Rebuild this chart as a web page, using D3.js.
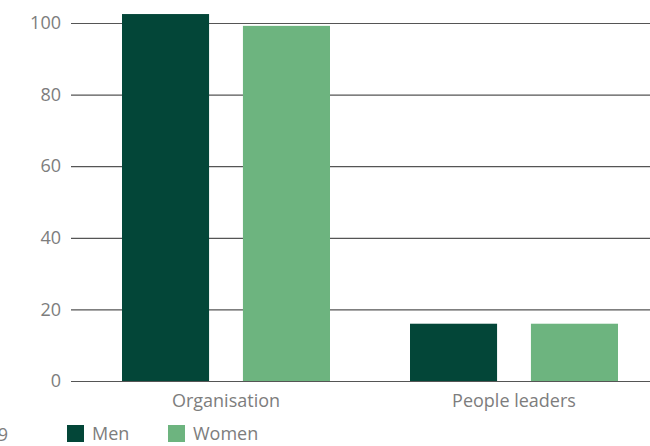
<!DOCTYPE html>
<html>
<head>
<meta charset="utf-8">
<script src="https://cdn.jsdelivr.net/npm/d3@7"></script>
<style>
  body { margin: 0; background: #fff; }
  text { font-family: "Open Sans", sans-serif; fill: #7d7d7d; }
</style>
</head>
<body>
<svg id="chart"></svg>
<script>
const categories = ["Organisation", "People leaders"];
const seriesNames = ["Men", "Women"];
const men = [102.5, 16];
const women = [99.2, 16];
const yTicks = [0, 20, 40, 60, 80, 100];
const colors = ["#034638", "#6db47f"];

const width = 650, height = 446;

const svg = d3.select("#chart")
    .attr("width", width)
    .attr("height", height)

const yScale = d3.scaleLinear()
        .domain([0, 100])
        .range([381, 23]),
      xScale = d3.scaleBand()
        .domain(categories)
        .range([82, 658]),
      inner = d3.scaleBand()
        .domain(seriesNames)
        .range([40, 248])
        .paddingInner(0.28)

// gridlines + tick labels
const yAxis = d3.axisLeft(yScale)
    .tickValues(yTicks)
    .tickSize(-(width - 71))
    .tickPadding(10)

const yAxisView = svg.append("g")
    .attr("transform", "translate(71,0)")
    .call(yAxis)
yAxisView.select(".domain").remove()
yAxisView.selectAll(".tick line")
    .attr("stroke", "#555")
    .attr("stroke-width", 1.2)
yAxisView.selectAll(".tick text")
    .attr("font-size", 18)
    .attr("font-family", "'Open Sans', sans-serif")
    .attr("fill", "#7d7d7d")

// bars
const rows = categories.map((c, i) => ({key: c, values: [men[i], women[i]]}))

const groups = svg.selectAll("g.cat")
    .data(rows)
    .enter().append("g")
    .attr("class", "cat")
    .attr("transform", d => `translate(${xScale(d.key)},0)`)

groups.selectAll("rect")
    .data(d => d.values.map((v, j) => ({name: seriesNames[j], value: v, color: colors[j]})))
    .enter().append("rect")
    .attr("x", d => inner(d.name))
    .attr("width", inner.bandwidth())
    .attr("y", d => yScale(d.value))
    .attr("height", d => yScale(0) - yScale(d.value))
    .attr("fill", d => d.color)

// category labels
const xAxis = d3.axisBottom(xScale).tickSize(0).tickPadding(13)
const xAxisView = svg.append("g")
    .attr("transform", `translate(0,${yScale(0)})`)
    .call(xAxis)
xAxisView.select(".domain").remove()
xAxisView.selectAll(".tick text")
    .attr("font-size", 18)
    .attr("font-family", "'Open Sans', sans-serif")
    .attr("fill", "#7d7d7d")

// cut-off label at left edge
svg.append("text")
    .attr("x", 8)
    .attr("y", 441)
    .attr("text-anchor", "end")
    .attr("font-size", 18)
    .text("2019")

// legend
const legend = svg.selectAll("g.legend")
    .data(seriesNames)
    .enter().append("g")
    .attr("class", "legend")
    .attr("transform", (d, i) => `translate(${67 + i * 101},425)`)

legend.append("rect")
    .attr("width", 17)
    .attr("height", 17)
    .attr("fill", (d, i) => colors[i])

legend.append("text")
    .attr("x", 25)
    .attr("y", 15)
    .attr("font-size", 18)
    .text(d => d)
</script>
</body>
</html>
